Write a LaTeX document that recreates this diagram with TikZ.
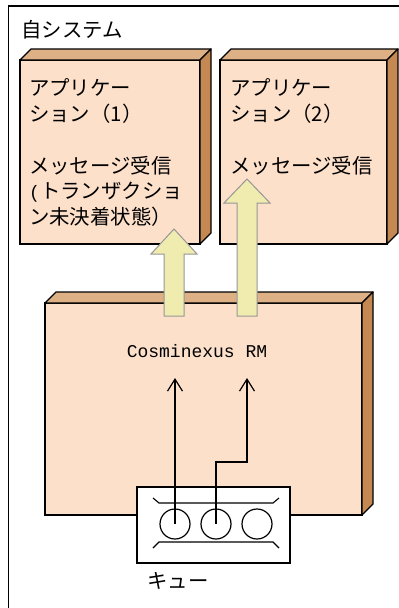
\documentclass[tikz,border=0pt]{standalone}
\usepackage{fontspec}
\newfontfamily\jpfont{Noto Sans CJK JP}
\newfontfamily\mymono{Liberation Mono}
\usetikzlibrary{arrows.meta}
\definecolor{frontc}{RGB}{253,224,202}
\definecolor{topc}{RGB}{222,176,134}
\definecolor{sidec}{RGB}{196,136,82}
\definecolor{arrowc}{RGB}{240,236,176}
\definecolor{arrowb}{RGB}{150,150,150}
\newcommand{\boxdepth}[1]{%
  \filldraw[topface] (#1.north west) -- ++(11,-11) -- ([shift={(11,-11)}]#1.north east) -- (#1.north east) -- cycle;
  \filldraw[sideface] (#1.north east) -- ([shift={(11,-11)}]#1.north east) -- ([shift={(11,-11)}]#1.south east) -- (#1.south east) -- cycle;}
\begin{document}
\begin{tikzpicture}[x=1pt,y=-1pt,
  front/.style={draw=black,line width=1.3pt,fill=frontc,inner sep=0pt,outer sep=0pt,rectangle},
  topface/.style={draw=black,line width=1.3pt,fill=topc,line join=round},
  sideface/.style={draw=black,line width=1.3pt,fill=sidec,line join=round},
  jtext/.style={font=\jpfont\fontsize{20.4}{24}\selectfont,inner sep=0pt,anchor=base west},
  bigarrow/.style={draw=arrowb,line width=1pt,fill=arrowc},
  thinarrow/.style={line width=1.2pt,-{Straight Barb[length=12pt,width=15pt]}},
  qcircle/.style={circle,draw=black,line width=1.2pt,minimum size=30pt,inner sep=0pt},
  bracket/.style={line width=1.1pt},
]
\useasboundingbox (0,0) rectangle (399,608);
% outer frame
\draw[line width=1.8pt] (8.5,610) -- (8.5,6) -- (400,6);
\node[jtext] (sys) at (21,37.6) {自システム};

% application boxes
\node[front,minimum width=180pt,minimum height=184pt] (app1) at (110,152) {};
\boxdepth{app1}
\node[front,minimum width=167pt,minimum height=184pt] (app2) at (303.5,152) {};
\boxdepth{app2}

% RM box
\node[front,minimum width=317pt,minimum height=212pt] (rm) at (203.5,409) {};
\boxdepth{rm}

% texts app1
\node[jtext] (a1l1) at (29,95.6) {アプリケー};
\node[jtext] (a1l2) at (29,121.4) {ション（1）};
\node[jtext] (a1l3) at (29,173) {メッセージ受信};
\node[jtext] (a1l4) at (29,198.8) {{\mymono\fontsize{18}{20}\selectfont(}トランザクショ};
\node[jtext] (a1l5) at (29,224.6) {ン未決着状態）};
% texts app2
\node[jtext] (a2l1) at (230,95.6) {アプリケー};
\node[jtext] (a2l2) at (230,121.4) {ション（2）};
\node[jtext] (a2l3) at (230,173) {メッセージ受信};

% big arrows
\filldraw[bigarrow] (164,316) -- (164,254) -- (151,254) -- (174,229) -- (197,254) -- (184,254) -- (184,316) -- cycle;
\filldraw[bigarrow] (237,316) -- (237,203) -- (224,203) -- (247,179) -- (270,203) -- (257,203) -- (257,316) -- cycle;

% RM label
\node[font=\mymono\fontsize{18}{20}\selectfont,inner sep=0pt,anchor=base] (rmlabel) at (197,357) {Cosminexus RM};

% queue
\node[draw=black,fill=white,line width=1.3pt,minimum width=153pt,minimum height=76pt,inner sep=0pt,outer sep=0pt] (queue) at (213.5,525) {};
\draw[bracket] (153,498) -- (159,503) -- (273,503) -- (279,498);
\draw[bracket] (153,548) -- (159,542) -- (273,542) -- (279,548);
\node[qcircle] (q1) at (175,524) {};
\node[qcircle] (q2) at (216,524) {};
\node[qcircle] (q3) at (257,524) {};
\node[jtext] (qlabel) at (147,588.6) {キュー};

% thin arrows
\coordinate (t1) at (175,378);
\coordinate (b2) at (247,462);
\coordinate (t2) at (247,378);
\draw[thinarrow] (q1.center) -- (t1);
\draw[thinarrow] (q2.center) |- (b2) -- (t2);
\end{tikzpicture}
\end{document}
